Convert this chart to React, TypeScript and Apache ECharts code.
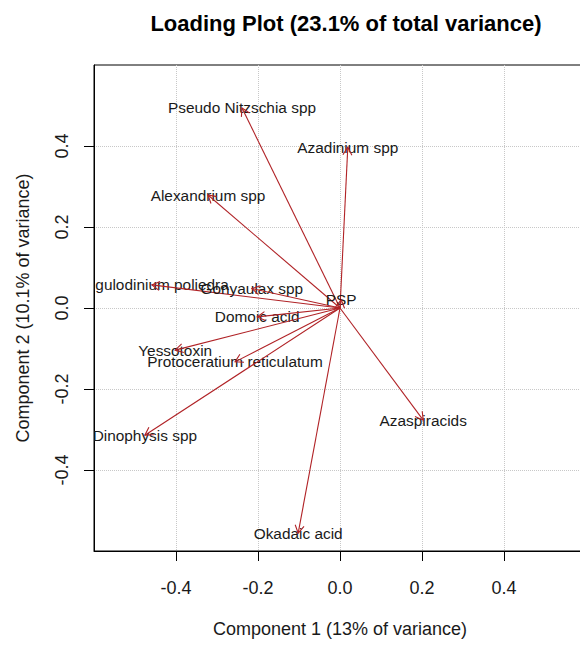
import React, { useEffect, useRef } from "react";
import * as echarts from "echarts";

const variables = [
  "Pseudo Nitzschia spp",
  "Azadinium spp",
  "Alexandrium spp",
  "Lingulodinium poliedra",
  "Gonyaulax spp",
  "PSP",
  "Domoic acid",
  "Yessotoxin",
  "Protoceratium reticulatum",
  "Dinophysis spp",
  "Azaspiracids",
  "Okadaic acid",
];
const component1 = [-0.239, 0.019, -0.322, -0.459, -0.215, 0.003, -0.202, -0.402, -0.256, -0.476, 0.203, -0.102];
const component2 = [0.494, 0.397, 0.279, 0.057, 0.048, 0.02, -0.022, -0.104, -0.133, -0.314, -0.277, -0.556];
const tickValues = [-0.4, -0.2, 0, 0.2, 0.4];

const titleText = "Loading Plot (23.1% of total variance)";
const xTitle = "Component 1 (13% of variance)";
const yTitle = "Component 2 (10.1% of variance)";

const FONT = '"Liberation Sans", Arial, sans-serif';
const ARROW = "#b02226";

export default function App() {
  const ref = useRef<HTMLDivElement>(null);
  useEffect(() => {
    if (!ref.current) return;
    const chart = echarts.init(ref.current, null, { renderer: "svg" });
    const data = component1.map((v, i) => [v, component2[i]]);
    const axisCommon = {
      type: "value",
      min: -0.6,
      max: 0.6,
      interval: 0.2,
      nameLocation: "middle",
      nameTextStyle: { fontFamily: FONT, fontSize: 18, color: "#1a1a1a" },
      axisLine: { show: true, onZero: false, lineStyle: { color: "#000", width: 1 } },
      axisTick: { show: true, inside: false, length: 10, customValues: tickValues, lineStyle: { color: "#000" } },
      splitLine: { show: true, lineStyle: { color: "#c8c8c8", type: "dotted", width: 1 } },
    };
    chart.setOption({
      animation: false,
      backgroundColor: "#fff",
      title: {
        text: titleText,
        left: 341,
        top: 7,
        textAlign: "center",
        textStyle: { fontFamily: FONT, fontSize: 22, fontWeight: "bold", color: "#000" },
      },
      grid: {
        left: 94,
        top: 65,
        width: 492,
        height: 486,
        show: true,
        borderColor: "#000",
        borderWidth: 1,
        backgroundColor: "transparent",
      },
      xAxis: {
        ...axisCommon,
        name: xTitle,
        nameGap: 69,
        axisLabel: {
          customValues: tickValues,
          margin: 28,
          fontFamily: FONT,
          fontSize: 18,
          color: "#1a1a1a",
          formatter: (v: number) => v.toFixed(1),
        },
      },
      yAxis: {
        ...axisCommon,
        name: yTitle,
        nameGap: 62,
        nameRotate: 90,
        axisLabel: {
          customValues: tickValues,
          rotate: 90,
          margin: 23,
          fontFamily: FONT,
          fontSize: 18,
          color: "#1a1a1a",
          formatter: (v: number) => v.toFixed(1),
        },
      },
      series: [
        {
          type: "custom",
          clip: true,
          data,
          renderItem: (params: any, api: any) => {
            const x = api.value(0);
            const y = api.value(1);
            const o = api.coord([0, 0]);
            const p = api.coord([x, y]);
            const ang = Math.atan2(p[1] - o[1], p[0] - o[0]);
            const L = 9;
            const a = Math.PI / 6;
            const h1 = [p[0] - L * Math.cos(ang - a), p[1] - L * Math.sin(ang - a)];
            const h2 = [p[0] - L * Math.cos(ang + a), p[1] - L * Math.sin(ang + a)];
            return {
              type: "group",
              children: [
                {
                  type: "text",
                  style: {
                    text: variables[params.dataIndex],
                    x: p[0],
                    y: p[1],
                    align: "center",
                    verticalAlign: "middle",
                    fill: "#1a1a1a",
                    fontSize: 15.4,
                    fontFamily: FONT,
                  },
                },
                {
                  type: "line",
                  shape: { x1: o[0], y1: o[1], x2: p[0], y2: p[1] },
                  style: { stroke: ARROW, lineWidth: 1.1 },
                },
                {
                  type: "polyline",
                  shape: { points: [h1, p, h2] },
                  style: { stroke: ARROW, fill: "none", lineWidth: 1.1 },
                },
              ],
            };
          },
        },
      ],
    });
    return () => chart.dispose();
  }, []);
  return (
    <div style={{ position: "fixed", left: 0, top: 0, width: 580, height: 645, overflow: "hidden", background: "#fff" }}>
      <div ref={ref} style={{ width: 600, height: 645 }} />
    </div>
  );
}
